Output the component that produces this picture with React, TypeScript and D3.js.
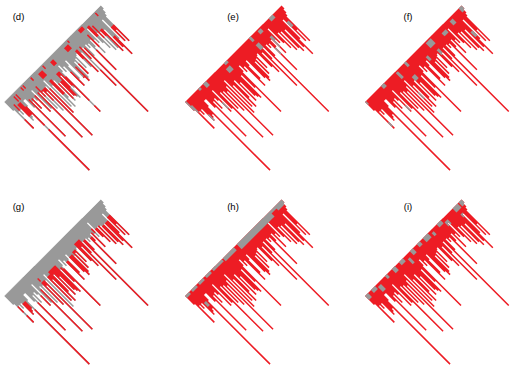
import React from "react";
import * as d3 from "d3";

// stripe length for each position along the top edge
const stripeLengths = [
  9, 28, 12, 16, 12, 24, 22, 20, 77, 14, 9, 9, 18, 48, 14, 22, 13, 16, 28, 8,
  27, 57, 13, 30, 14, 34, 16, 61, 13, 40, 9, 36, 16, 38, 30, 14, 35, 18, 32, 34,
  36, 15, 28, 53, 14, 9, 16, 12, 32, 26, 14, 10, 28, 32, 30, 15, 28, 14, 24, 13,
  12, 26, 32, 14, 48, 22, 12, 77, 22, 12, 16, 13, 40, 18, 12, 26, 14, 18, 5, 20,
  26, 12, 30, 13, 30, 34, 14, 32, 40, 26, 8, 30, 20, 32, 8, 6, 3,
];

// overlay runs: [first stripe, last stripe, depth from, depth to]
const redRunsD = [
  [1, 1, 19, 99], [3, 3, 6, 12], [5, 7, 8, 20], [7, 7, 2, 7], [9, 9, 2, 7], [8, 8, 13, 32], [8, 8, 36, 99],
  [13, 13, 11, 99], [15, 15, 1, 4], [17, 17, 1, 4], [15, 15, 12, 22], [18, 18, 12, 99], [21, 21, 12, 99],
  [25, 25, 1, 4], [23, 23, 8, 18], [24, 28, 13, 24], [27, 27, 13, 99], [29, 29, 16, 99], [31, 34, 3, 8],
  [33, 34, 12, 26], [36, 39, 18, 33], [37, 37, 1, 4], [40, 42, 12, 26], [43, 45, 3, 7], [43, 43, 18, 42],
  [43, 43, 47, 99], [48, 48, 18, 26], [48, 49, 26, 32], [52, 53, 27, 32], [53, 53, 18, 99], [56, 56, 18, 99],
  [57, 60, 3, 7], [61, 62, 10, 18], [62, 62, 1, 3], [62, 62, 17, 99], [65, 65, 10, 22],
  [64, 64, 32, 99], [67, 67, 13, 99], [72, 72, 20, 99], [73, 76, 1, 4], [75, 75, 8, 20],
  [79, 80, 4, 14], [82, 82, 6, 18], [84, 85, 12, 18], [85, 85, 18, 99], [87, 88, 22, 99],
  [90, 93, 16, 99], [90, 90, 1, 4],
];

const redRunsG = [
  [1, 1, 12, 18], [1, 1, 21, 99], [5, 7, 13, 99], [8, 8, 22, 99], [13, 13, 20, 99], [18, 18, 18, 99],
  [21, 21, 15, 99], [25, 25, 8, 11], [25, 27, 12, 99], [31, 33, 12, 99], [34, 40, 10, 99],
  [42, 42, 14, 99], [43, 43, 16, 99], [48, 49, 14, 99], [52, 54, 13, 99], [56, 58, 12, 99],
  [61, 65, 9, 99], [67, 68, 12, 99], [72, 73, 14, 99], [75, 75, 12, 99], [77, 77, 10, 14],
  [79, 80, 12, 99], [82, 82, 12, 99], [84, 89, 14, 99], [91, 93, 12, 99],
];

const grayRunsE = [
  [0, 0, 0, 9], [1, 1, 5, 12], [4, 5, 18, 25], [13, 14, 0, 2], [18, 20, 0, 4], [18, 18, 19, 25],
  [37, 40, 4, 8], [39, 41, 0, 2], [64, 65, 0, 4], [64, 66, 7, 12], [71, 72, 18, 24], [72, 74, 1, 4],
  [75, 76, 10, 20], [84, 87, 0, 3], [90, 92, 11, 16],
];

const grayRunsF = [
  [0, 0, 0, 3], [1, 1, 22, 26], [16, 18, 0, 3], [18, 18, 22, 27], [30, 31, 1, 7], [31, 32, 22, 28],
  [36, 38, 11, 15], [39, 40, 0, 4], [53, 54, 8, 12], [60, 64, 1, 6], [62, 63, 10, 15], [73, 76, 4, 7],
  [83, 85, 2, 6], [88, 89, 18, 23], [94, 96, 0, 4],
];

const grayRunsH = [
  [0, 3, 0, 2], [6, 7, 13, 17], [6, 10, 0, 2], [13, 17, 0, 2], [20, 24, 0, 2], [27, 36, 0, 2],
  [38, 48, 0, 3], [52, 84, 0, 5], [85, 89, 0, 2], [90, 96, 0, 4],
];

const grayRunsI = [
  [0, 2, 0, 4], [6, 9, 0, 3], [11, 13, 2, 7], [20, 21, 0, 3], [27, 29, 0, 4], [34, 37, 0, 3],
  [40, 41, 3, 8], [45, 47, 0, 4], [52, 54, 0, 3], [58, 62, 0, 4], [65, 66, 2, 5], [72, 75, 0, 3],
  [77, 79, 3, 7], [88, 92, 0, 4], [89, 90, 7, 10], [94, 96, 0, 4],
];

const GRAY = "#999999";
const RED = "#ed1c24";

const panels = [
  { label: "(d)", x: 4.3, y: 102, lx: 18.5, ly: 19.5, base: GRAY, over: RED, runs: redRunsD },
  { label: "(e)", x: 185, y: 102, lx: 233, ly: 19.5, base: RED, over: GRAY, runs: grayRunsE },
  { label: "(f)", x: 365, y: 102, lx: 408, ly: 19.5, base: RED, over: GRAY, runs: grayRunsF },
  { label: "(g)", x: 4.3, y: 296, lx: 18.5, ly: 210, base: GRAY, over: RED, runs: redRunsG },
  { label: "(h)", x: 185, y: 296, lx: 233, ly: 210, base: RED, over: GRAY, runs: grayRunsH },
  { label: "(i)", x: 365, y: 296, lx: 408, ly: 210, base: RED, over: GRAY, runs: grayRunsI },
];

const step = d3.scaleLinear().domain([0, 97]).range([0, 96.5]);

function addCell(p: any, u0: number, u1: number, v0: number, v1: number) {
  const pt = (u: number, v: number) => [step(u) + step(v), step(v) - step(u)];
  const c = [pt(u0, v0), pt(u1, v0), pt(u1, v1), pt(u0, v1)];
  p.moveTo(c[0][0], c[0][1]);
  p.lineTo(c[1][0], c[1][1]);
  p.lineTo(c[2][0], c[2][1]);
  p.lineTo(c[3][0], c[3][1]);
  p.closePath();
}

function basePath() {
  const p = d3.path();
  // a tiny overlap so neighbouring stripes leave no seam
  stripeLengths.forEach((len, u) => addCell(p, u - 0.03, u + 1.03, 0, len));
  return p.toString();
}

function runsPath(runs: number[][]) {
  const p = d3.path();
  runs.forEach(([u0, u1, v0, v1]) => {
    for (let u = u0; u <= u1; u++) {
      const end = Math.min(v1, stripeLengths[u]);
      if (end > v0) addCell(p, u - 0.03, u + 1.03, v0, end);
    }
  });
  return p.toString();
}

export default function App() {
  return (
    <svg
      width={518}
      height={371}
      style={{ position: "absolute", left: 0, top: 0, display: "block" }}
      fontFamily="'Liberation Sans', Arial, sans-serif"
    >
      <rect width={518} height={371} fill="#ffffff" />
      {panels.map((d) => (
        <g key={d.label}>
          <g transform={`translate(${d.x},${d.y})`}>
            <path d={basePath()} fill={d.base} />
            <path d={runsPath(d.runs)} fill={d.over} />
          </g>
          <text x={d.lx} y={d.ly} fontSize={9.5} textAnchor="middle" fill="#000000">
            {d.label}
          </text>
        </g>
      ))}
    </svg>
  );
}
